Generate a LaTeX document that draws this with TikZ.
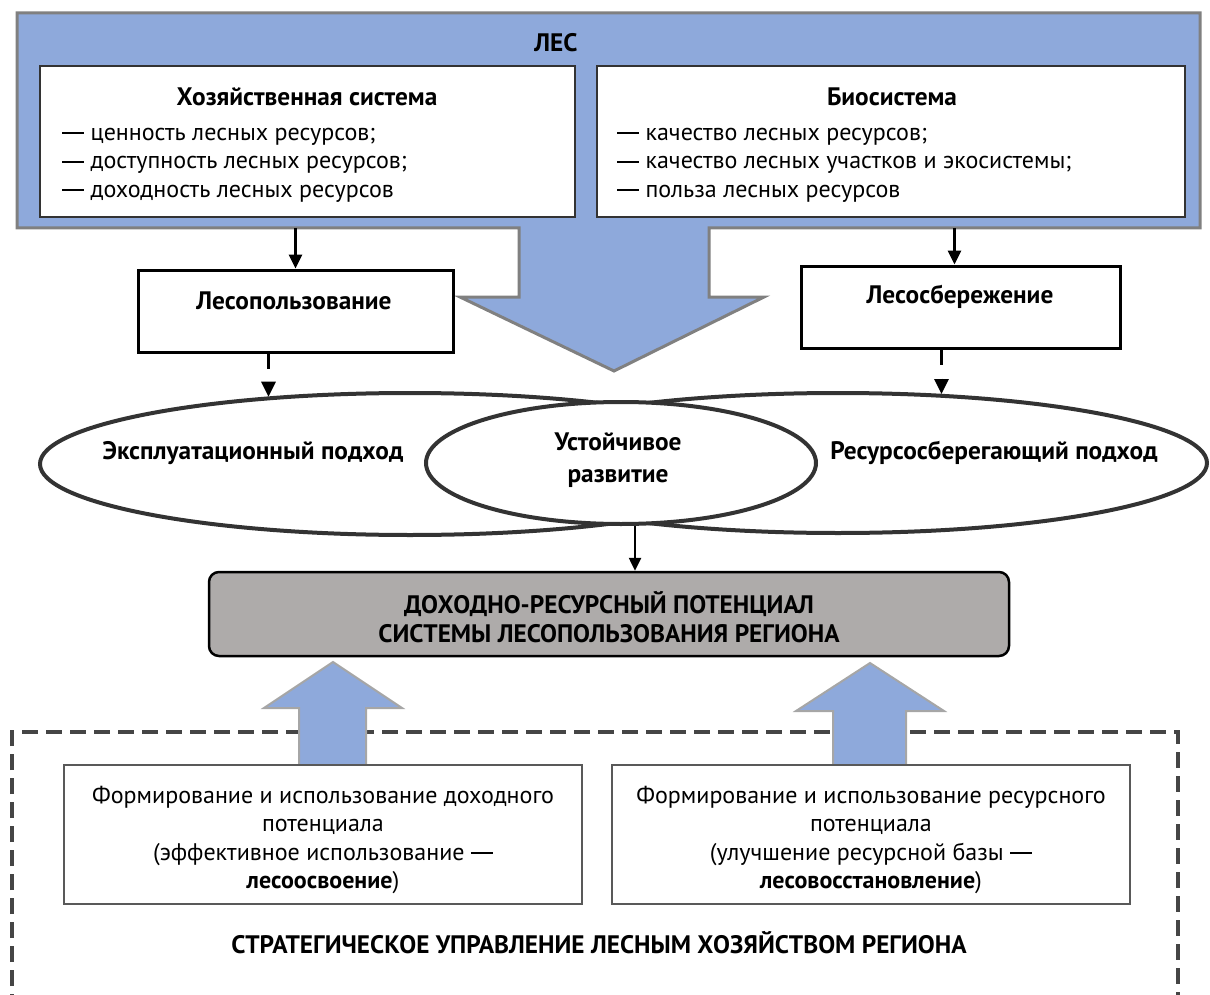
\documentclass[tikz,border=0pt]{standalone}
\usepackage{fontspec}
\setmainfont{PT Sans}
\usetikzlibrary{shapes.geometric,arrows.meta,calc}
\definecolor{lesblue}{HTML}{8EA9DB}
\definecolor{framegray}{HTML}{808080}
\definecolor{potgray}{HTML}{AEABAA}
\definecolor{ellgray}{HTML}{333333}
\definecolor{boxgray}{HTML}{595959}
\definecolor{arrgray}{HTML}{A6A6A6}
\definecolor{dashgray}{HTML}{454545}
\newcommand\longdash{\rule[6pt]{22pt}{1.8pt}}
\begin{document}
\begin{tikzpicture}[x=1pt,y=-1pt,
  txt/.style={font=\fontsize{24}{28.5}\selectfont, inner sep=0pt},
  btxt/.style={font=\fontsize{25.3}{28.5}\selectfont\bfseries, inner sep=0pt},
  whitebox/.style={draw=black!80, line width=2pt, fill=white, inner sep=0pt},
  actbox/.style={draw=black, line width=3pt, fill=white, inner sep=0pt},
  lowbox/.style={draw=boxgray, line width=2pt, fill=white, inner sep=0pt},
  potbox/.style={draw=black, line width=2.5pt, fill=potgray, rounded corners=10pt, inner sep=0pt},
  ellbox/.style={ellipse, draw=ellgray, line width=4pt, inner sep=0pt},
  solidarrow/.style={line width=3pt, -{Triangle[length=14pt,width=13pt]}},
  dasharrow/.style={line width=3pt, dash pattern=on 15pt off 14pt, -{Triangle[length=15pt,width=14pt]}},
  thinarrow/.style={line width=2.5pt, -{Triangle[length=13pt,width=12pt]}},
  blockarrow/.style={draw=arrgray, line width=2pt, fill=lesblue},
  outerdash/.style={draw=dashgray, line width=4.5pt, dash pattern=on 16pt off 8pt}
]
\useasboundingbox (0,0) rectangle (1210,995);
\clip (0,0) rectangle (1210,995);

% big blue frame with downward arrow
\draw[framegray, line width=3pt, fill=lesblue, line join=miter]
  (17,13) -- (1200,13) -- (1200,228) -- (709,228) -- (709,297) -- (764,297)
  -- (614,371) -- (460,297) -- (519,297) -- (519,228) -- (17,228) -- cycle;
\coordinate (lesbot) at (17,228);
\node[btxt] (les) at (556,43) {ЛЕС};

% top boxes
\node[whitebox, minimum width=535pt, minimum height=151pt] (hoz) at (307.5,141.5) {};
\node[btxt] (hoztitle) at (307,97) {Хозяйственная система};
\node[txt, align=left, anchor=west] (hozlist) at (62,165)
  {\longdash{} ценность лесных ресурсов;\\\longdash{} доступность лесных ресурсов;\\\longdash{} доходность лесных ресурсов};

\node[whitebox, minimum width=588pt, minimum height=151pt] (bio) at (891,141.5) {};
\node[btxt] (biotitle) at (892,97) {Биосистема};
\node[txt, align=left, anchor=west] (biolist) at (617,165)
  {\longdash{} качество лесных ресурсов;\\\longdash{} качество лесных участков и экосистемы;\\\longdash{} польза лесных ресурсов};

% activity boxes
\node[actbox, minimum width=315pt, minimum height=82pt] (lp) at (295.5,311) {};
\node[btxt] (lptext) at (294,301) {Лесопользование};
\node[actbox, minimum width=319pt, minimum height=82pt] (ls) at (960.5,307) {};
\node[btxt] (lstext) at (960,297) {Лесосбережение};

\draw[solidarrow] (lp.north |- lesbot) -- (lp.north);
\draw[solidarrow] ([xshift=-6pt]ls.north |- lesbot) -- ([xshift=-6pt]ls.north);

% ellipses
\node[ellbox, minimum width=740pt, minimum height=142pt] (ell1) at (410,464) {};
\node[ellbox, minimum width=738pt, minimum height=140pt] (ell3) at (838,463) {};
\node[ellbox, fill=white, minimum width=390pt, minimum height=122pt] (ell2) at (621,463) {};
\node[btxt] (e1text) at (253,453) {Эксплуатационный подход};
\node[btxt, align=center, font=\fontsize{25.3}{32}\selectfont\bfseries] (e2text) at (618,460) {Устойчивое\\развитие};
\node[btxt] (e3text) at (994,453) {Ресурсосберегающий подход};

\draw[dasharrow] ([xshift=-27pt]lp.south) -- ([xshift=-27pt]lp.south |- ell1.155);
\draw[dasharrow] ([xshift=-19pt]ls.south) -- ([xshift=-19pt]ls.south |- ell3.33);

% potential box
\node[potbox, minimum width=800pt, minimum height=84pt] (dp) at (609,614) {};
\node[btxt, align=center] (dptext) at (609,617)
  {ДОХОДНО-РЕСУРСНЫЙ ПОТЕНЦИАЛ\\СИСТЕМЫ ЛЕСОПОЛЬЗОВАНИЯ РЕГИОНА};
\draw[thinarrow] ([xshift=14pt]ell2.south) -- ([xshift=14pt]ell2.south |- dp.north);

% strategic management frame
\draw[outerdash] (12,1010) -- (12,732) -- (1178,732) -- (1178,1010);

% block arrows up
\draw[blockarrow] (299,765) -- (299,708) -- (264,708) -- (333,662) -- (402,708) -- (366,708) -- (366,765) -- cycle;
\draw[blockarrow] (833,765) -- (833,711) -- (796,711) -- (870,663) -- (944,711) -- (906,711) -- (906,765) -- cycle;

% lower boxes
\node[lowbox, minimum width=518pt, minimum height=139pt] (lb) at (323,834.5) {};
\node[txt, align=center] (lbtext) at (323,840)
  {Формирование и использование доходного\\потенциала\\(эффективное использование \longdash\\\textbf{лесоосвоение})};
\node[lowbox, minimum width=518pt, minimum height=139pt] (rb) at (871,834.5) {};
\node[txt, align=center] (rbtext) at (871,840)
  {Формирование и использование ресурсного\\потенциала\\(улучшение ресурсной базы \longdash\\\textbf{лесовосстановление})};

\node[btxt] (strat) at (599,943) {СТРАТЕГИЧЕСКОЕ УПРАВЛЕНИЕ ЛЕСНЫМ ХОЗЯЙСТВОМ РЕГИОНА};
\end{tikzpicture}
\end{document}
